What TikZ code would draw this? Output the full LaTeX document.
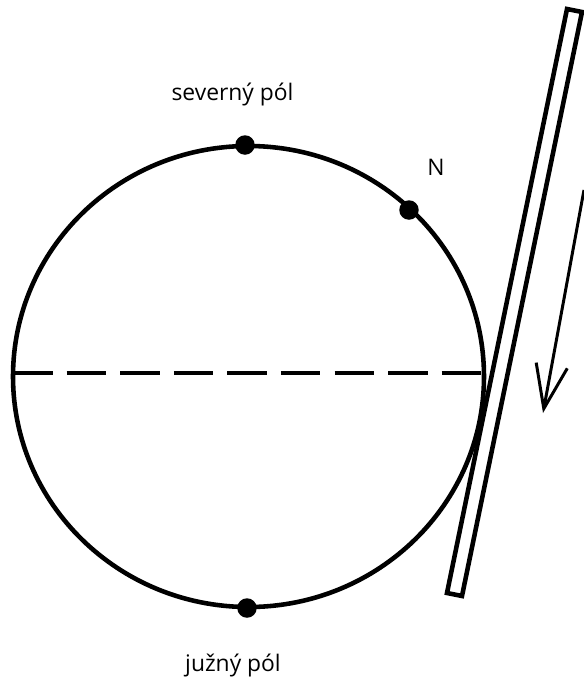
\documentclass[tikz,border=0pt]{standalone}
\usepackage{fontspec}
\setmainfont{Open Sans}
\usetikzlibrary{positioning,arrows.meta}

\begin{document}
\begin{tikzpicture}[
    x=0.02cm, y=-0.02cm,
    node distance=5mm,
    every node/.style={font=\fontsize{13}{15}\selectfont},
    pole/.style={circle, fill=black, inner sep=0pt, minimum size=0.39cm},
    heavy/.style={line width=2.6pt}
]
\useasboundingbox (0,0) rectangle (584,684);

% globe
\draw[heavy] (248.5,376.5) ellipse [x radius=235.5, y radius=230.5];
\coordinate (west) at (13,373);
\coordinate (east) at (484,373);
\draw[heavy, dash pattern=on 22.5pt off 8pt] (west) -- (east);

\node[pole] (north) at (245,145) {};
\node[pole] (south) at (247,608) {};
\node[pole] (pointN) at (409,210) {};

\node (northlabel) [above=0.45cm of north, xshift=-0.25cm] {severný pól};
\node (southlabel) [below=0.6cm of south, xshift=-0.28cm] {južný pól};
\node (nlabel) [above right=0.42cm and 0.1cm of pointN] {N};

% rod
\coordinate (rodbl) at (447,593);
\coordinate (rodtl) at (567,9);
\coordinate (rodtr) at (582,12);
\coordinate (rodbr) at (462,596);
\draw[heavy, line join=miter] (rodbl) -- (rodtl) -- (rodtr) -- (rodbr) -- cycle;

% motion
\coordinate (flowstart) at (584,190);
\coordinate (flowend) at (543,413);
\draw[line width=1.7pt, -{Straight Barb[length=25pt, width=18pt]}] (flowstart) -- (flowend);

\end{tikzpicture}
\end{document}
